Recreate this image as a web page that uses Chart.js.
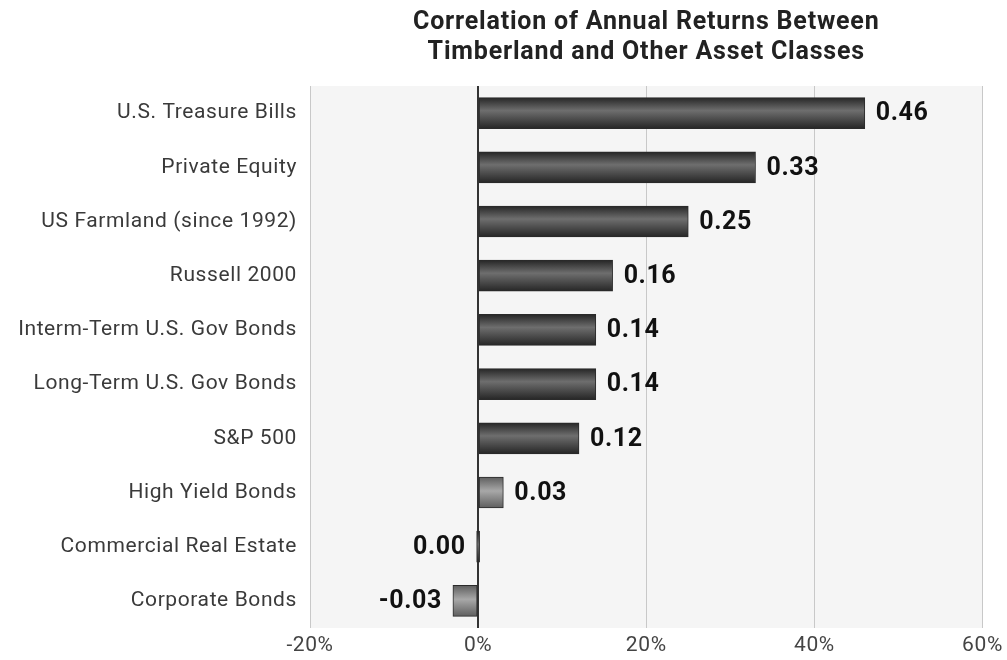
<!DOCTYPE html>
<html>
<head>
<meta charset="utf-8">
<script src="https://cdn.jsdelivr.net/npm/chart.js@4.4.1/dist/chart.umd.min.js"></script>
<style>
  html, body { margin: 0; padding: 0; background: #ffffff; }
  #wrap { width: 1007px; height: 660px; position: relative; }
</style>
</head>
<body>
<div id="wrap"><canvas id="corrChart"></canvas></div>
<script>
// Dữ liệu biểu đồ
const categories = [
    'U.S. Treasure Bills',
    'Private Equity',
    'US Farmland (since 1992)',
    'Russell 2000',
    'Interm-Term U.S. Gov Bonds',
    'Long-Term U.S. Gov Bonds',
    'S&P 500',
    'High Yield Bonds',
    'Commercial Real Estate',
    'Corporate Bonds'
];
const correlations = [0.46, 0.33, 0.25, 0.16, 0.14, 0.14, 0.12, 0.03, 0.00, -0.03];
const xTicks = [-20, 0, 20, 40, 60];
const titleLines = ['Correlation of Annual Returns Between', 'Timberland and Other Asset Classes'];

const BAR_H = 31;
const lightIdx = [7, 9];

function barGradient(context) {
    const chart = context.chart;
    const yScale = chart.scales.y;
    const light = lightIdx.includes(context.dataIndex);
    if (!yScale || context.dataIndex === undefined) return light ? '#888' : '#444';
    const yc = yScale.getPixelForValue(context.dataIndex);
    if (!isFinite(yc)) return light ? '#888' : '#444';
    const g = chart.ctx.createLinearGradient(0, yc - BAR_H / 2, 0, yc + BAR_H / 2);
    if (light) {
        g.addColorStop(0, '#5e5e5e');
        g.addColorStop(0.45, '#a8a8a8');
        g.addColorStop(1, '#5e5e5e');
    } else {
        g.addColorStop(0, '#262626');
        g.addColorStop(0.42, '#6e6e6e');
        g.addColorStop(1, '#262626');
    }
    return g;
}

// nền vùng vẽ + tiêu đề + nhãn giá trị
const decorPlugin = {
    id: 'decor',
    beforeDraw(chart) {
        const { ctx, chartArea: a } = chart;
        ctx.letterSpacing = '0.6px';
        ctx.save();
        ctx.fillStyle = '#f5f5f5';
        ctx.fillRect(a.left, a.top, a.right - a.left, a.bottom - a.top);
        ctx.fillStyle = '#222222';
        ctx.font = 'bold 25px Roboto';
        ctx.letterSpacing = '0.8px';
        ctx.textAlign = 'center';
        ctx.textBaseline = 'middle';
        const cx = (a.left + a.right) / 2;
        ctx.fillText(titleLines[0], cx, 23);
        ctx.fillText(titleLines[1], cx, 53);
        ctx.restore();
    },
    afterDatasetsDraw(chart) {
        const { ctx } = chart;
        const meta = chart.getDatasetMeta(0);
        ctx.save();
        ctx.font = 'bold 25px Roboto';
        ctx.fillStyle = '#111111';
        ctx.textBaseline = 'middle';
        meta.data.forEach((bar, i) => {
            const v = correlations[i];
            const txt = v.toFixed(2);
            if (v > 0) {
                ctx.textAlign = 'left';
                ctx.fillText(txt, bar.x + 11, bar.y + 1);
            } else {
                ctx.textAlign = 'right';
                ctx.fillText(txt, Math.min(bar.x, bar.base) - 11, bar.y + 1);
            }
        });
        ctx.restore();
    }
};

const canvas = document.getElementById('corrChart');
new Chart(canvas.getContext('2d'), {
    type: 'bar',
    data: {
        labels: categories,
        datasets: [{
            data: correlations.map(v => v * 100),
            backgroundColor: barGradient,
            borderColor: '#2a2a2a',
            borderWidth: 1,
            borderSkipped: false,
            barThickness: BAR_H,
            minBarLength: 3
        }]
    },
    plugins: [decorPlugin],
    options: {
        indexAxis: 'y',
        responsive: true,
        maintainAspectRatio: false,
        animation: false,
        layout: { padding: { top: 86, right: 0, bottom: 0, left: 0 } },
        plugins: {
            legend: { display: false },
            title: { display: false },
            tooltip: { enabled: false }
        },
        scales: {
            x: {
                min: -20,
                max: 60,
                afterBuildTicks(scale) {
                    scale.ticks = xTicks.map(v => ({ value: v }));
                },
                afterFit(scale) { scale.height = 32; },
                grid: {
                    color: ctx => (ctx.tick && ctx.tick.value === 0) ? '#333333' : '#c8c8c8',
                    lineWidth: ctx => (ctx.tick && ctx.tick.value === 0) ? 2 : 1,
                    drawTicks: false
                },
                border: { display: false },
                ticks: {
                    padding: 5,
                    color: '#444444',
                    font: { family: 'Roboto', size: 21 },
                    callback: v => v + '%'
                }
            },
            y: {
                afterFit(scale) { scale.width = 310; },
                grid: { display: false, drawTicks: false },
                border: { display: false },
                ticks: {
                    padding: 13,
                    color: '#3a3a3a',
                    font: { family: 'Roboto', size: 21 }
                }
            }
        }
    }
});
</script>
</body>
</html>
